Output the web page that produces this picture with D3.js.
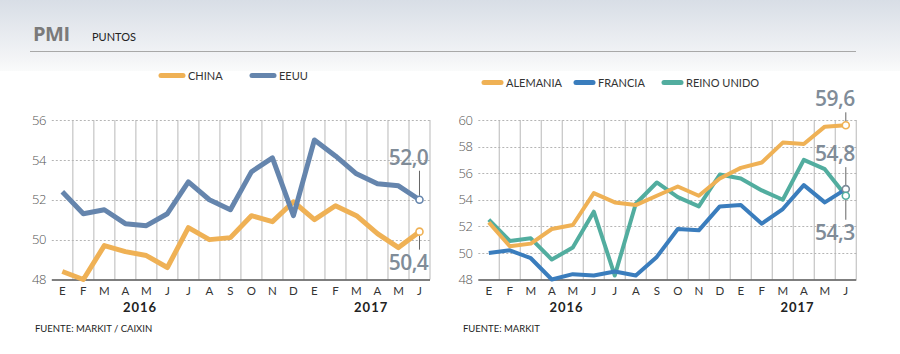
<!DOCTYPE html>
<html>
<head>
<meta charset="utf-8">
<script src="https://cdn.jsdelivr.net/npm/d3@7"></script>
<style>
  body { margin: 0; background: #fff; }
  svg { display: block; font-family: Lato, "Open Sans", sans-serif; }
</style>
</head>
<body>
<div id="chart"></div>
<script>
// months shown on both panels (ene 2016 - jun 2017)
var months = ["E","F","M","A","M","J","J","A","S","O","N","D","E","F","M","A","M","J"];
var years = ["2016", "2017"];

// left panel
var china = [48.4,48.0,49.7,49.4,49.2,48.6,50.6,50.0,50.1,51.2,50.9,51.9,51.0,51.7,51.2,50.3,49.6,50.4];
var eeuu  = [52.4,51.3,51.5,50.8,50.7,51.3,52.9,52.0,51.5,53.4,54.1,51.2,55.0,54.2,53.3,52.8,52.7,52.0];
var leftTicks = [48, 50, 52, 54, 56];

// right panel
var alemania = [52.3,50.5,50.7,51.8,52.1,54.5,53.8,53.6,54.3,55.0,54.3,55.6,56.4,56.8,58.3,58.2,59.5,59.6];
var francia  = [50.0,50.2,49.6,48.0,48.4,48.3,48.6,48.3,49.7,51.8,51.7,53.5,53.6,52.2,53.3,55.1,53.8,54.8];
var reinoUnido = [52.5,50.9,51.1,49.5,50.4,53.1,48.3,53.7,55.3,54.2,53.5,55.9,55.6,54.7,54.0,57.0,56.3,54.3];
var rightTicks = [48, 50, 52, 54, 56, 58, 60];

var W = 900, H = 354;
var ORANGE = "#efb155", SLATE = "#6585ad", BLUE = "#3a7dbd", TEAL = "#52ad9f";
var labelColor = "#808c98";

var svg = d3.select("#chart").append("svg").attr("width", W).attr("height", H);

var defs = svg.append("defs");
var grad = defs.append("linearGradient").attr("id", "hdr").attr("x1", 0).attr("y1", 0).attr("x2", 0).attr("y2", 1);
grad.append("stop").attr("offset", "0%").attr("stop-color", "#d8dee6");
grad.append("stop").attr("offset", "85%").attr("stop-color", "#f4f5f7");
grad.append("stop").attr("offset", "100%").attr("stop-color", "#fafbfb");
svg.append("rect").attr("width", W).attr("height", 71).attr("fill", "url(#hdr)");

svg.append("text").attr("x", 33).attr("y", 41).attr("font-size", 20).attr("font-weight", "bold")
  .attr("fill", "#7a7a7a").attr("font-family", "'Open Sans', sans-serif").attr("letter-spacing", -0.5).text("PMI");
svg.append("text").attr("x", 92).attr("y", 41).attr("font-size", 11).attr("fill", "#222").text("PUNTOS");
svg.append("line").attr("x1", 30).attr("x2", 856).attr("y1", 51.5).attr("y2", 51.5).attr("stroke", "#a8a8a8").attr("stroke-width", 1.2);

function drawPanel(p) {
  var g = svg.append("g");
  var x = d3.scaleBand().domain(d3.range(months.length)).range([p.x0, p.x1]);
  var bw = x.bandwidth();
  var cx = function(i) { return x(i) + bw / 2; };
  var y = d3.scaleLinear().domain([p.ticks[0], p.ticks[p.ticks.length - 1]]).range([279.5, 120]);

  // vertical separators between months
  g.selectAll(".vg").data(d3.range(1, months.length + 1)).enter().append("line")
    .attr("x1", function(i) { return x(i - 1) + bw; }).attr("x2", function(i) { return x(i - 1) + bw; })
    .attr("y1", 120).attr("y2", 279.5).attr("stroke", "#c9c9c9").attr("stroke-width", 1.3);

  // horizontal dotted lines
  g.selectAll(".hg").data(p.ticks.slice(1)).enter().append("line")
    .attr("x1", p.x0).attr("x2", p.x1).attr("y1", function(d) { return Math.round(y(d)) + 0.5; })
    .attr("y2", function(d) { return Math.round(y(d)) + 0.5; })
    .attr("stroke", "#b5b5b5").attr("stroke-dasharray", "2,2");

  var yAxis = d3.axisLeft(y).tickValues(p.ticks).tickSize(0).tickPadding(6);
  var ya = g.append("g").attr("transform", "translate(" + p.x0 + ",0)").call(yAxis);
  ya.select(".domain").remove();
  ya.selectAll("text").attr("font-size", 13).attr("fill", "#555").attr("font-weight", 300)
    .attr("font-family", "'Open Sans', sans-serif").attr("letter-spacing", -0.5);

  g.append("line").attr("x1", p.x0).attr("x2", p.x1).attr("y1", 280).attr("y2", 280)
    .attr("stroke", "#555").attr("stroke-width", 1.5);

  g.selectAll(".mlab").data(months).enter().append("text")
    .attr("x", function(d, i) { return cx(i); }).attr("y", 295)
    .attr("text-anchor", "middle").attr("font-size", 11.5).attr("fill", "#333").text(function(d) { return d; });

  g.selectAll(".ylab").data(years).enter().append("text")
    .attr("x", function(d, i) { return cx(p.yearAt[i]) + 0.7 * bw; }).attr("y", 312)
    .attr("text-anchor", "middle").attr("font-size", 13).attr("font-weight", "bold")
    .attr("letter-spacing", 1).attr("fill", "#222").text(function(d) { return d; });

  g.append("text").attr("x", p.srcX).attr("y", 332).attr("font-size", 9.5).attr("fill", "#222").text(p.source);

  var line = d3.line().x(function(d, i) { return cx(i); }).y(function(d) { return y(d); });
  p.series.forEach(function(s) {
    g.append("path").datum(s.values).attr("d", line).attr("fill", "none")
      .attr("stroke", s.color).attr("stroke-width", p.lw).attr("stroke-linejoin", "round");
  });

  var last = months.length - 1;
  p.callouts.forEach(function(c) {
    var yv = y(c.value);
    g.append("line").attr("x1", cx(last)).attr("x2", cx(last))
      .attr("y1", yv + (c.up ? -4 : 4)).attr("y2", yv + (c.up ? -c.len : c.len))
      .attr("stroke", "#666").attr("stroke-width", 1);
    g.append("circle").attr("cx", cx(last)).attr("cy", yv).attr("r", 3.5)
      .attr("fill", "#fff").attr("stroke", c.ring).attr("stroke-width", 1.6);
    g.append("text").attr("x", cx(last) - 11).attr("y", c.up ? yv - c.len - 6 : yv + c.len + 20)
      .attr("text-anchor", "middle").attr("font-size", 21).attr("font-weight", 600)
      .attr("font-family", "'Open Sans', sans-serif").attr("letter-spacing", -0.5)
      .attr("fill", labelColor).text(d3.format(".1f")(c.value).replace(".", ","));
  });

  p.legend.forEach(function(l) {
    g.append("line").attr("x1", l.x).attr("x2", l.x + p.swatch).attr("y1", p.legY).attr("y2", p.legY)
      .attr("stroke", l.color).attr("stroke-width", 5).attr("stroke-linecap", "round");
    g.append("text").attr("x", l.x + p.swatch + 5).attr("y", p.legY + 4).attr("font-size", 11)
      .attr("fill", "#333").text(l.name);
  });
}

drawPanel({
  x0: 51.8, x1: 430, ticks: leftTicks, lw: 5, yearAt: [3, 14], srcX: 35, source: "FUENTE: MARKIT / CAIXIN",
  series: [{ values: china, color: ORANGE }, { values: eeuu, color: SLATE }],
  callouts: [
    { value: eeuu[eeuu.length - 1], ring: SLATE, up: true, len: 29 },
    { value: china[china.length - 1], ring: ORANGE, up: false, len: 18 }
  ],
  legY: 75.5, swatch: 22,
  legend: [{ x: 161, name: "CHINA", color: ORANGE }, { x: 252, name: "EEUU", color: SLATE }]
});

drawPanel({
  x0: 478.3, x1: 856.3, ticks: rightTicks, lw: 4, yearAt: [3, 14], srcX: 463, source: "FUENTE: MARKIT",
  series: [{ values: reinoUnido, color: TEAL }, { values: francia, color: BLUE }, { values: alemania, color: ORANGE }],
  callouts: [
    { value: alemania[alemania.length - 1], ring: ORANGE, up: true, len: 13 },
    { value: francia[francia.length - 1], ring: "#7c8a98", up: true, len: 22 },
    { value: reinoUnido[reinoUnido.length - 1], ring: TEAL, up: false, len: 24 }
  ],
  legY: 82.5, swatch: 17,
  legend: [{ x: 484, name: "ALEMANIA", color: ORANGE }, { x: 576, name: "FRANCIA", color: BLUE },
           { x: 664, name: "REINO UNIDO", color: TEAL }]
});
</script>
</body>
</html>
